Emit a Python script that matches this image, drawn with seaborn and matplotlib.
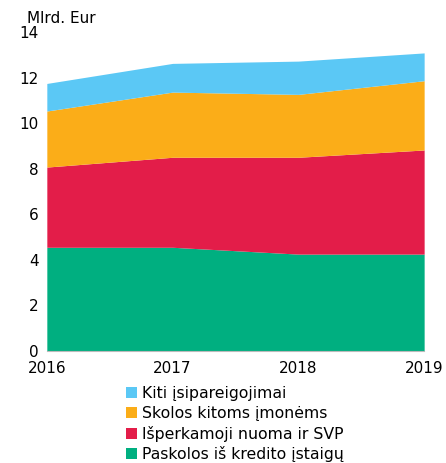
import matplotlib
matplotlib.use("Agg")
import matplotlib.pyplot as plt
import seaborn as sns
from matplotlib.patches import Patch

# data (Mlrd. Eur)
years = [2016, 2017, 2018, 2019]
paskolos = [4.55, 4.55, 4.25, 4.25]
nuoma = [3.52, 3.95, 4.25, 4.57]
skolos = [2.46, 2.86, 2.76, 3.04]
kiti = [1.21, 1.26, 1.46, 1.22]

labels = ['Paskolos iš kredito įstaigų', 'Išperkamoji nuoma ir SVP',
          'Skolos kitoms įmonėms', 'Kiti įsipareigojimai']
colors = ['#00AF80', '#E31D49', '#FBAD18', '#5BC8F5']

sns.set_style("white")
plt.rcParams['font.family'] = ['DejaVu Sans']
plt.rcParams['text.color'] = 'black'
plt.rcParams['xtick.labelcolor'] = 'black'
plt.rcParams['ytick.labelcolor'] = 'black'

fig = plt.figure(figsize=(4.46, 4.63), dpi=100)
ax = fig.add_axes([0.105, 0.242, 0.846, 0.689])

ax.stackplot(years, paskolos, nuoma, skolos, kiti, colors=colors, linewidth=0)

ax.set_xlim(2016, 2019)
ax.set_ylim(0, 14)
ax.set_xticks(years)
ax.set_yticks(range(0, 15, 2))
ax.tick_params(axis='x', length=5, color='#bbbbbb', labelsize=11, pad=2)
ax.tick_params(axis='y', length=0, labelsize=11, pad=6)
sns.despine(ax=ax, left=True)
ax.spines['bottom'].set_color('#bbbbbb')

fig.text(0.06, 0.96, 'Mlrd. Eur', fontsize=11, va='center', ha='left')

handles = [Patch(facecolor=c, edgecolor='none') for c in colors]
ax.legend(handles[::-1], labels[::-1], loc='upper left',
          bbox_to_anchor=(0.265, 0.183), bbox_transform=fig.transFigure,
          frameon=False, fontsize=11.3, handlelength=0.7, handleheight=0.7,
          handletextpad=0.3, labelspacing=0.3, borderpad=0)

fig.savefig('out.png', dpi=100)
